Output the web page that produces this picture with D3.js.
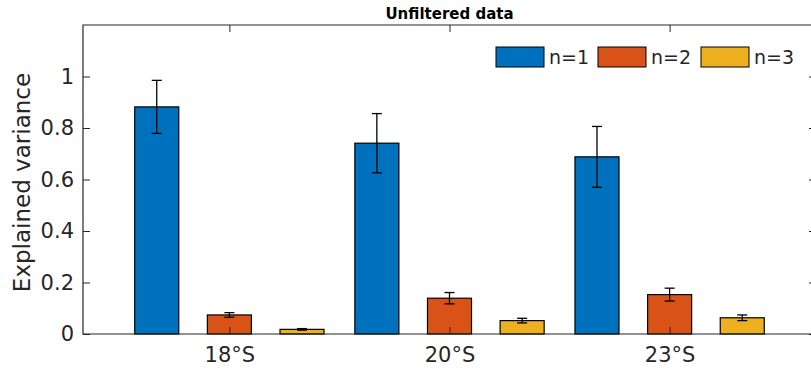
<!DOCTYPE html>
<html>
<head>
<meta charset="utf-8">
<script src="https://cdn.jsdelivr.net/npm/d3@7"></script>
<style>
  html, body { margin: 0; padding: 0; background: #fff; }
  svg { display: block; }
  text { font-family: "DejaVu Sans", sans-serif; }
</style>
</head>
<body>
<svg id="chart" width="811" height="369"></svg>
<script>
// ---- data ----
const categories = ["18°S", "20°S", "23°S"];
const seriesNames = ["n=1", "n=2", "n=3"];
const seriesColors = ["#0072BD", "#D95319", "#EDB120"];
const valuesN1 = [0.882, 0.741, 0.688];
const valuesN2 = [0.074, 0.139, 0.153];
const valuesN3 = [0.018, 0.052, 0.063];
const errorsN1 = [0.103, 0.115, 0.118];
const errorsN2 = [0.009, 0.022, 0.025];
const errorsN3 = [0.003, 0.009, 0.011];
const yTicks = [0, 0.2, 0.4, 0.6, 0.8, 1];
const titleText = "Unfiltered data";
const yLabel = "Explained variance";

const seriesValues = [valuesN1, valuesN2, valuesN3];
const seriesErrors = [errorsN1, errorsN2, errorsN3];

// ---- layout ----
const svg = d3.select("#chart");
const mLeft = 83, mRight = 816, mTop = 25, mBottom = 334;
const axisColor = "#262626";

const x = d3.scaleLinear().domain([0.335, 3.665]).range([mLeft, mRight]);
const y = d3.scaleLinear().domain([0, 1.2]).range([mBottom, mTop]);
const offset = d3.scaleLinear().domain([0, 2]).range([-0.33, 0.33]);
const barW = x(0.2) - x(0);

// bars + error bars
seriesValues.forEach((vals, s) => {
  const g = svg.append("g");
  vals.forEach((v, i) => {
    const cx = x(i + 1 + offset(s));
    g.append("rect")
      .attr("x", cx - barW / 2)
      .attr("y", y(v))
      .attr("width", barW)
      .attr("height", y(0) - y(v))
      .attr("fill", seriesColors[s])
      .attr("stroke", "#000")
      .attr("stroke-width", 1.2);
    const e = seriesErrors[s][i];
    const capW = 5;
    const eg = svg.append("g").attr("stroke", "#000").attr("stroke-width", 1.3).attr("fill", "none");
    eg.append("line").attr("x1", cx).attr("x2", cx).attr("y1", y(v - e)).attr("y2", y(v + e));
    eg.append("line").attr("x1", cx - capW).attr("x2", cx + capW).attr("y1", y(v - e)).attr("y2", y(v - e));
    eg.append("line").attr("x1", cx - capW).attr("x2", cx + capW).attr("y1", y(v + e)).attr("y2", y(v + e));
  });
});

// axes box
const box = svg.append("g").attr("stroke", axisColor).attr("stroke-width", 1.2).attr("fill", "none");
box.append("path").attr("d", `M${mRight},${mTop}H${mLeft}V${mBottom}H${mRight}`);
box.append("line").attr("x1", mRight).attr("x2", mRight).attr("y1", mTop).attr("y2", mBottom);

// y axis
const yAxis = d3.axisLeft(y).tickValues(yTicks).tickSizeInner(-7).tickSizeOuter(0)
  .tickPadding(9).tickFormat(d => d3.format("~g")(d));
const ya = svg.append("g").attr("transform", `translate(${mLeft},0)`).call(yAxis);
ya.select(".domain").remove();
ya.selectAll(".tick line").attr("stroke", axisColor).attr("stroke-width", 1);
ya.selectAll(".tick text").attr("fill", axisColor).style("font-size", "21px")
  .style("font-family", "DejaVu Sans");

// right-side ticks
const yr = svg.append("g").attr("transform", `translate(${mRight},0)`)
  .call(d3.axisRight(y).tickValues(yTicks).tickSizeInner(-7).tickSizeOuter(0).tickFormat(""));
yr.select(".domain").remove();
yr.selectAll(".tick line").attr("stroke", axisColor).attr("stroke-width", 1);

// x axis
const xAxis = d3.axisBottom(x).tickValues([1, 2, 3]).tickSizeInner(-7).tickSizeOuter(0)
  .tickPadding(13).tickFormat((d) => categories[d - 1]);
const xa = svg.append("g").attr("transform", `translate(0,${mBottom})`).call(xAxis);
xa.select(".domain").remove();
xa.selectAll(".tick line").attr("stroke", axisColor).attr("stroke-width", 1);
xa.selectAll(".tick text").attr("fill", axisColor).style("font-size", "21px")
  .style("font-family", "DejaVu Sans");

// top ticks
const xt = svg.append("g").attr("transform", `translate(0,${mTop})`)
  .call(d3.axisTop(x).tickValues([1, 2, 3]).tickSizeInner(-7).tickSizeOuter(0).tickFormat(""));
xt.select(".domain").remove();
xt.selectAll(".tick line").attr("stroke", axisColor).attr("stroke-width", 1);

// title
svg.append("text").attr("x", (mLeft + mRight) / 2).attr("y", 19)
  .attr("text-anchor", "middle").attr("fill", "#000")
  .style("font-size", "15px").style("font-weight", "bold").text(titleText);

// y label
svg.append("text").attr("transform", `translate(30,${(mTop + mBottom) / 2 + 3}) rotate(-90)`)
  .attr("text-anchor", "middle").attr("fill", axisColor)
  .style("font-size", "23px").text(yLabel);

// legend
const legX = [496, 598, 701];
const leg = svg.append("g");
seriesNames.forEach((name, s) => {
  leg.append("rect").attr("x", legX[s]).attr("y", 47).attr("width", 48).attr("height", 20)
    .attr("fill", seriesColors[s]).attr("stroke", "#000").attr("stroke-width", 1);
  leg.append("text").attr("x", legX[s] + 53).attr("y", 64)
    .attr("fill", axisColor).style("font-size", "19px").text(name);
});
</script>
</body>
</html>
